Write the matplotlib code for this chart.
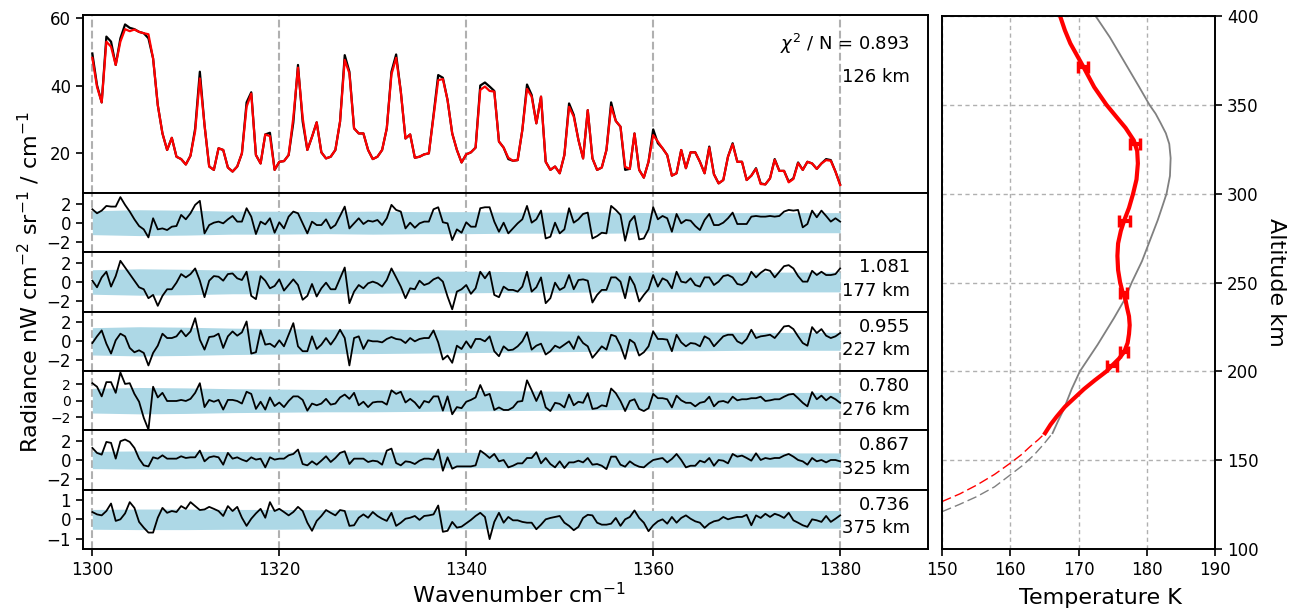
import numpy as np
import matplotlib
matplotlib.use("Agg")
import matplotlib.pyplot as plt

# wavenumber grid of the spectra (cm-1)
wn = np.arange(1300, 1380.5, 0.5)

meas = [49.5, 40.1, 35.0, 54.5, 53.0, 46.1, 54.0, 58.1, 57.1, 56.7,
        55.9, 55.5, 54.0, 48.0, 34.2, 25.8, 20.9, 24.5, 18.9, 18.2,
        16.6, 19.2, 27.3, 44.1, 28.3, 16.0, 15.0, 21.4, 20.9, 15.7,
        14.5, 16.0, 19.9, 35.0, 38.0, 19.4, 16.9, 25.5, 26.0, 15.0,
        17.4, 17.6, 19.4, 29.0, 46.1, 29.3, 20.9, 24.8, 29.1, 20.2,
        18.4, 18.9, 20.9, 29.3, 49.0, 44.1, 27.3, 25.8, 25.8, 20.9,
        18.2, 18.9, 20.9, 27.3, 44.1, 49.2, 38.2, 24.3, 25.5, 18.6,
        18.9, 19.6, 19.9, 31.3, 43.1, 42.3, 35.7, 25.8, 20.9, 17.2,
        19.6, 20.2, 21.6, 40.0, 40.9, 39.7, 38.4, 23.4, 21.6, 18.2,
        17.7, 17.9, 26.8, 40.3, 37.2, 28.8, 36.7, 17.4, 15.0, 16.0,
        14.0, 19.4, 34.7, 31.3, 23.9, 18.4, 32.7, 18.4, 15.0, 15.7,
        20.9, 35.0, 29.5, 27.8, 15.0, 15.3, 25.8, 15.0, 12.7, 17.4,
        27.0, 22.9, 21.4, 19.4, 13.3, 14.0, 20.9, 15.5, 20.2, 20.2,
        17.4, 14.0, 21.9, 13.7, 11.0, 12.0, 18.9, 22.9, 17.4, 17.4,
        12.0, 13.3, 15.5, 11.0, 10.7, 12.5, 18.2, 14.7, 14.7, 11.5,
        12.5, 17.2, 15.0, 17.4, 16.9, 15.3, 16.9, 18.2, 17.9, 14.5,
        10.7]

model = [48.2, 39.6, 35.0, 53.0, 51.5, 46.1, 53.0, 56.7, 56.1, 56.6,
         55.9, 55.5, 55.2, 48.0, 34.2, 25.8, 20.9, 24.5, 18.9, 18.2,
         16.6, 19.2, 26.5, 42.1, 28.3, 16.0, 15.0, 21.4, 20.9, 15.7,
         14.5, 16.0, 19.9, 33.7, 37.6, 19.4, 16.9, 25.5, 25.0, 15.0,
         17.4, 17.6, 19.4, 30.5, 45.3, 30.5, 20.9, 24.8, 29.1, 20.2,
         18.4, 18.9, 20.9, 29.3, 47.6, 43.6, 27.3, 25.8, 25.8, 20.9,
         18.2, 18.9, 20.9, 27.3, 43.3, 48.2, 38.2, 24.3, 25.5, 18.6,
         18.9, 19.6, 19.9, 30.8, 41.6, 41.9, 35.7, 25.8, 20.9, 17.2,
         19.6, 20.2, 21.6, 38.7, 39.7, 38.4, 38.2, 23.4, 21.6, 18.6,
         17.7, 17.9, 26.8, 39.0, 36.7, 28.8, 36.7, 17.4, 15.0, 16.0,
         14.0, 19.4, 33.7, 30.8, 23.9, 18.4, 32.7, 18.4, 15.0, 15.7,
         20.9, 33.7, 29.5, 27.8, 15.9, 15.3, 25.8, 15.0, 12.7, 17.4,
         25.3, 23.4, 21.4, 19.4, 13.3, 14.0, 20.9, 15.5, 20.2, 20.2,
         17.4, 14.0, 21.6, 13.7, 11.0, 12.0, 18.9, 22.6, 17.4, 17.4,
         12.0, 13.3, 15.3, 10.8, 10.7, 12.5, 18.0, 14.7, 14.7, 11.3,
         12.3, 17.0, 15.0, 17.4, 16.9, 15.3, 16.9, 17.9, 17.7, 14.5,
         10.5]

res_126 = [1.40, 0.98, 1.26, 1.75, 1.68, 1.68, 2.67, 1.86, 1.16, 0.35,
           -0.35, -0.70, -1.54, 0.46, -0.70, -0.60, -0.77, -0.42, -0.35, 0.81,
           0.35, 0.98, 1.86, 2.28, -1.12, -0.25, 0.00, 0.11, -0.07, 0.35,
           0.70, 0.11, 0.11, 1.51, 0.63, -1.19, 0.11, -0.18, 0.46, -1.05,
           0.04, -0.60, 0.63, 1.16, 0.98, -0.07, -1.12, 0.11, -0.25, -0.25,
           0.35, -0.60, -0.25, 0.70, 1.68, -0.60, -0.07, 0.46, -0.14, 0.21,
           0.11, 0.28, -0.25, 0.46, 1.86, 1.33, 1.16, -0.60, 0.00, -0.53,
           -0.07, 0.11, 0.11, 1.40, 1.61, 0.04, -0.07, -1.82, -0.70, -1.05,
           0.04, -0.42, -0.42,
           1.51, 1.61, 1.61, 0.11, -0.95, 0.00, -1.12, -0.60, -0.07, 0.35,
           1.75, 0.00, 0.35, 1.26, -1.65, -1.47, 0.00, -1.12, -0.70, 1.51,
           0.00, 0.35, 0.91, 1.05, -1.65, -1.40, -1.05, -1.12, 1.75, 1.33,
           0.81, -1.89, 0.11, 0.70, -1.75, -1.65, -0.70, 1.61, 0.35, 0.70,
           0.46, -0.95, 0.91, -0.07, 0.28, 0.21, -0.35, -0.77, 0.28, 0.91,
           -0.25, -0.25, 0.00, 0.46, 1.05, -0.14, -0.14, -0.14, 0.63, 0.70,
           0.63, 0.63, 0.70, 0.63, 0.70, 1.16, 1.33, 1.26, 1.33, -0.49,
           -0.14, 1.26, 0.56, 1.26, 0.70, 0.11, 0.46, 0.11]

res_177 = [0.14, -0.56, 0.49, 1.09, -0.49, 0.63, 2.25, 1.54, 0.84, 0.14,
           -0.56, -0.77, -1.72, -1.37, -2.53, -1.47, -0.77, -0.77, -0.07, 0.84,
           0.49, 0.84, 1.44, 0.14, -1.61, 0.14, 0.63, 0.56, 0.14, 0.84,
           0.91, 0.39, 0.21, 1.09, -1.47, -1.82, 0.63, 0.14, -0.67, -0.42,
           0.28, -0.91, -0.32, 0.28, -0.32, -1.89, -1.47, -0.21, -1.54, -0.67,
           -0.07, -0.77, -0.77, 0.39, 1.54, -2.25, -1.02, -0.32, -0.67, -0.14,
           0.04, -0.14, -0.49, 0.21, 1.44, 0.49, -0.49, -1.72, -0.67, -0.77,
           0.14, -0.32, -0.14, 0.28, 0.49, 0.04, -1.54, -2.90, -1.02, -0.77,
           -0.32, -1.26, -0.67,
           1.09, 0.39, 1.09, -1.37, -1.61, -0.49, -0.84, -0.84, -1.02, -0.49,
           1.09, -1.02, -0.56, 0.49, -2.25, -1.72, -0.07, -0.84, -0.56, 0.74,
           -0.77, 0.21, 0.28, 0.14, -2.18, -1.37, -0.84, -0.84, 0.49, 0.49,
           0.04, -1.72, 0.56, -0.32, -2.07, -1.37, -0.77, 0.74, -0.49, 0.39,
           0.14, -0.67, 1.09, 0.04, -0.07, 0.39, -0.32, -0.49, 0.49, 0.49,
           -0.32, 0.04, 0.63, 0.74, 0.49, -0.21, -0.32, 0.04, 1.09, 0.49,
           0.98, 1.33, 1.19, 0.49, 1.09, 1.68, 1.79, 1.44, 0.63, 0.04,
           0.04, 1.19, 0.74, 1.09, 0.74, 0.74, 0.84, 1.44]

res_227 = [-0.18, 0.53, 1.16, -0.25, -1.30, 0.11, 0.81, 0.53, -0.70, -1.16,
           -0.95, -1.23, -2.56, -1.23, -0.46, 0.81, 0.35, 0.35, 0.53, 1.16,
           0.53, 1.05, 2.46, 0.18, -0.88, 0.46, 0.53, 0.81, -0.70, 0.53,
           1.05, 0.60, 0.95, 2.11, -1.30, -1.16, 1.16, -0.35, -0.25, -0.60,
           0.11, -0.53, 0.70, 1.93, -0.53, -1.05, -1.05, 0.53, -0.81, -0.35,
           0.35, -0.35, 0.35, 1.23, 0.35, -2.56, 0.35, 0.53, -0.81, 0.11,
           0.00, 0.00, -0.11, 0.25, 0.46, 0.25, 0.18, -0.18, 0.35, 0.00,
           0.25, 0.35, 0.35, 1.16, -0.11, -1.93, -1.51, -2.28, -0.46, -0.81,
           0.00, -0.70, 0.25,
           0.25, 0.00, 0.53, -1.05, -1.58, -0.53, -0.95, -0.88, -0.53, 0.00,
           0.95, -0.88, -0.46, -0.25, -1.40, -1.05, -0.46, -0.70, -0.35, 0.00,
           -0.81, 0.53, -0.18, -0.53, -1.75, -1.16, -0.53, -0.88, 0.70, 0.53,
           -0.46, -1.86, 0.18, -0.18, -1.51, -1.16, -0.53, 1.05, 0.25, 0.25,
           0.18, -1.05, 0.70, -0.11, -0.53, -0.18, -0.25, -0.53, 0.53, 0.25,
           -0.53, 0.00, 0.53, 0.70, 0.70, 0.00, -0.25, 0.25, 1.23, 0.35,
           0.53, 0.60, 0.70, 0.35, 0.95, 1.58, 1.65, 1.30, 0.53, -0.18,
           -0.46, 1.51, 0.88, 1.30, 0.60, 0.35, 0.53, 0.88]

res_276 = [2.12, 1.69, 0.52, 2.25, 2.25, 0.95, 3.42, 2.03, 2.12, 0.82,
           -0.13, -2.08, -3.51, 1.69, 0.39, 0.95, -0.04, -0.04, -0.04, 0.09,
           -0.04, 0.22, 0.95, 2.12, -0.78, 0.09, -0.13, 0.09, -1.08, 0.09,
           0.09, -0.04, -0.35, 1.08, 0.82, -1.00, -0.13, -1.08, 0.39, -0.65,
           -0.22, -0.78, -0.04, 0.52, 0.52, 0.09, -1.21, -0.35, -0.56, -0.35,
           0.22, -0.48, -0.35, 0.39, 0.74, 0.22, 0.95, -0.56, -0.13, -0.78,
           -0.22, -0.13, -0.13, -0.48, 1.26, 0.82, 1.08, -0.22, 0.22, -0.22,
           -0.91, -0.04, -0.22, 0.52, 0.52, -1.21, 0.52, -1.65, -0.78, -0.91,
           -0.13, 0.09, 0.39,
           1.90, 0.61, 0.82, -1.13, -0.82, -1.13, -1.13, -0.82, -0.13, -0.04,
           2.47, 1.26, -0.04, 1.17, -0.82, -1.26, -0.26, -0.39, -0.82, 0.74,
           -0.56, -0.13, -0.26, 0.91, -1.00, -0.91, -0.56, -0.69, 1.47, 0.91,
           -0.04, -1.26, -0.04, 0.17, -1.00, -1.26, -0.91, 0.82, 0.30, 0.30,
           0.17, -0.82, 0.61, 0.04, -0.26, -0.26, -0.69, -0.26, -0.13, 0.48,
           -0.69, -0.13, -0.04, -0.26, 0.48, 0.04, 0.17, 0.17, 0.30, 0.30,
           0.48, -0.04, 0.04, 0.17, 0.17, 0.48, 0.74, 0.82, 0.30, -0.26,
           -0.69, 1.04, 0.17, 0.61, 0.04, 0.48, 0.17, -0.26]

res_325 = [1.26, 0.74, 0.56, 1.89, 1.79, 0.14, 1.96, 2.14, 1.89, 1.26,
           0.14, -0.56, -0.67, 0.28, 0.14, 0.49, 0.14, 0.14, 0.14, 0.39,
           0.21, 0.28, 0.28, 0.98, -0.14, 0.28, 0.39, 0.28, -0.49, 0.74,
           0.14, 0.28, 0.04, -0.14, 0.28, 0.04, 0.14, -0.77, 0.28, 0.04,
           0.14, 0.14, 0.49, 0.63, 1.09, -0.42, -0.56, -0.14, -0.49, -0.07,
           0.39, -0.21, 0.21, 0.74, 0.91, -0.42, 0.14, 0.14, 0.14, -0.21,
           -0.07, -0.14, -0.49, 0.98, 1.19, -0.32, -0.56, -0.14, -0.21, -0.42,
           -0.07, 0.14, 0.14, 0.04, 1.09, -1.12, 0.28, -0.91, -0.67, -0.67,
           -0.67, -0.67, -0.56,
           0.98, 0.63, 0.21, 0.63, -0.14, 0.00, -0.77, -0.60, -0.35, -0.35,
           0.21, 0.21, 0.81, -0.35, 0.21, -0.42, -0.77, -0.14, -0.84, -0.25,
           -0.25, -0.07, -0.25, 0.21, -0.49, -0.42, -0.60, -0.95, 0.35, 0.35,
           -0.49, -0.70, -0.14, -0.49, -0.70, -0.77, -0.35, 0.00, 0.11, 0.21,
           -0.25, 0.11, 0.63, 0.00, -0.77, -0.60, -0.60, -0.07, -0.25, 0.21,
           -0.60, 0.00, -0.07, -0.35, 0.63, 0.35, 0.46, 0.21, -0.07, 0.70,
           0.00, 0.21, 0.11, 0.21, 0.21, 0.46, 0.63, 0.35, 0.00, -0.14,
           -0.49, 0.21, -0.14, 0.00, -0.25, 0.00, 0.00, -0.14]

res_375 = [0.37, 0.25, 0.20, 0.42, 0.80, -0.08, 0.00, 0.30, 0.87, 0.58,
           -0.13, -0.42, -0.67, -0.67, 0.08, 0.58, 0.33, 0.42, 0.37, 0.67,
           0.53, 0.87, 0.67, 0.47, 0.50, 0.63, 0.53, 0.42, 0.17, 0.67,
           0.42, 0.63, 0.08, -0.33, 0.03, 0.30, 0.53, 0.08, 0.87, 0.42,
           0.53, 0.37, 0.20, 0.37, 0.63, 0.42, -0.17, -0.58, -0.08, 0.17,
           0.47, 0.33, 0.20, 0.47, 0.42, -0.33, -0.30, 0.08, 0.25, 0.08,
           0.37, 0.17, 0.03, -0.08, 0.33, -0.33, -0.17, 0.03, 0.08, 0.17,
           -0.03, 0.17, 0.20, 0.25, 0.70, -0.63, -0.58, -0.13, -0.42, -0.37,
           -0.20, -0.03, 0.17,
           0.33, 0.12, -1.00, -0.13, 0.33, -0.17, 0.12, -0.05, -0.05, -0.13,
           -0.17, -0.17, -0.50, -0.27, 0.00, 0.07, 0.12, 0.17, -0.17, -0.33,
           -0.55, -0.38, 0.07, 0.23, 0.20, -0.17, -0.27, -0.27, -0.22, 0.07,
           -0.33, 0.00, 0.12, 0.45, 0.07, -0.17, -0.60, -0.30, -0.10, 0.00,
           -0.22, 0.12, -0.17, 0.07, 0.20, 0.03, -0.10, -0.17, -0.43, -0.22,
           -0.10, -0.05, 0.12, 0.00, 0.07, 0.12, 0.12, 0.23, -0.30, 0.20,
           0.07, 0.28, 0.12, 0.28, 0.20, 0.07, 0.33, -0.05, -0.17, -0.30,
           -0.38, 0.00, -0.05, -0.13, 0.17, -0.13, 0.03, 0.20]

# noise level (1 sigma) read every 5 cm-1
sig_wn = [1300, 1305, 1310, 1315, 1320, 1325, 1330, 1335, 1340,
          1345, 1350, 1355, 1360, 1365, 1370, 1375, 1380]
sig_126 = [1.25, 1.35, 1.30, 1.20, 1.20, 1.15, 1.20, 1.15, 1.15, 1.10, 1.10, 1.10, 1.05, 1.05, 1.05, 1.05, 1.05]
sig_177 = [1.30, 1.40, 1.35, 1.25, 1.25, 1.20, 1.20, 1.15, 1.15, 1.10, 1.10, 1.05, 1.05, 1.05, 1.05, 1.05, 1.05]
sig_227 = [1.45, 1.55, 1.50, 1.40, 1.35, 1.30, 1.30, 1.25, 1.20, 1.15, 1.10, 1.05, 1.00, 1.00, 0.95, 0.95, 0.95]
sig_276 = [1.50, 1.60, 1.55, 1.45, 1.40, 1.35, 1.35, 1.30, 1.25, 1.20, 1.15, 1.10, 1.05, 1.05, 1.00, 1.00, 1.00]
sig_325 = [0.90, 0.95, 0.92, 0.88, 0.85, 0.85, 0.85, 0.82, 0.80, 0.80, 0.78, 0.76, 0.75, 0.74, 0.74, 0.74, 0.74]
sig_375 = [0.50, 0.52, 0.52, 0.50, 0.50, 0.48, 0.48, 0.48, 0.47, 0.47, 0.46, 0.46, 0.45, 0.45, 0.45, 0.45, 0.45]

panel_res = [res_126, res_177, res_227, res_276, res_325, res_375]
panel_sig = [sig_126, sig_177, sig_227, sig_276, sig_325, sig_375]
panel_lim = [3.1, 3.15, 3.15, 3.6, 3.1, 1.5]
panel_ticks = [[-2, 0, 2]] * 5 + [[-1, 0, 1]]
panel_tick_fs = [12, 12, 12, 10, 12, 12]
panel_chi = [None, '1.081', '0.955', '0.780', '0.867', '0.736']
panel_alt = [None, '177 km', '227 km', '276 km', '325 km', '375 km']

# temperature profiles (K) against altitude (km)
ret_alt = [165.2, 170, 174.5, 180, 185, 190, 195, 200, 203.2, 207, 211, 216, 221, 226,
           231, 236, 240, 244, 250, 257, 265, 272, 279, 285, 292, 300, 308, 317, 324,
           330, 337, 343, 350, 360, 371.5, 384.6, 392, 400]
ret_T = [165.1, 165.9, 166.8, 168.0, 169.4, 170.8, 172.4, 174.1, 174.9, 175.9, 176.7, 177.2,
         177.4, 177.5, 177.4, 177.1, 176.9, 176.5, 176.1, 175.8, 175.7, 175.8, 176.2, 176.7,
         177.4, 178.0, 178.5, 178.7, 178.6, 178.1, 176.9, 175.6, 174.1, 172.3, 170.7, 168.8,
         168.0, 167.3]
ret_low_alt = [126.7, 131, 136, 142, 148.3, 153, 157.6, 161.5, 165.2]
ret_low_T = [150, 152.6, 155.1, 157.7, 160, 161.6, 162.9, 164.1, 165.1]
apr_alt = [165.2, 172, 178.3, 190, 200, 215, 230, 240, 250, 262, 275, 285, 293, 300, 310,
           320, 328, 334, 340, 345, 350, 360, 375, 388, 400]
apr_T = [166.2, 167.0, 167.8, 169.0, 170.2, 172.8, 175.2, 176.7, 177.8, 179.3, 180.6, 181.6,
         182.3, 182.9, 183.4, 183.5, 183.3, 182.8, 182.0, 181.3, 180.4, 178.9, 176.6, 174.6,
         172.5]
apr_low_alt = [121, 125, 129.5, 135, 141.7, 147, 153, 159, 165.2]
apr_low_T = [150, 152.5, 155.1, 157.7, 160, 161.8, 163.5, 164.9, 166.2]
err_alt = [371.5, 328, 284.8, 244, 211, 203.2]
err_T = [170.7, 178.3, 176.7, 176.6, 176.7, 174.9]
err_dT = [0.75, 0.75, 0.8, 0.5, 0.6, 0.7]

plt.rcParams['font.size'] = 13
plt.rcParams['axes.linewidth'] = 1.4
plt.rcParams['xtick.labelsize'] = 12
plt.rcParams['ytick.labelsize'] = 12
plt.rcParams['xtick.major.size'] = 5
plt.rcParams['ytick.major.size'] = 5
plt.rcParams['xtick.major.width'] = 1.2
plt.rcParams['ytick.major.width'] = 1.2

W, H = 1289, 612
fig = plt.figure(figsize=(W / 100, H / 100), dpi=100)
gs = fig.add_gridspec(7, 1, left=83 / W, right=928 / W, top=1 - 15 / H, bottom=1 - 549 / H,
                      hspace=0, height_ratios=[3, 1, 1, 1, 1, 1, 1])

axes = [fig.add_subplot(gs[0])]
for i in range(1, 7):
    axes.append(fig.add_subplot(gs[i], sharex=axes[0]))

ax0 = axes[0]
for a in axes:
    for w in [1300, 1320, 1340, 1360, 1380]:
        a.axvline(w, color='#b0b0b0', ls='--', lw=1.5, zorder=0)
    a.tick_params(axis='x', bottom=False, labelbottom=False)

ax0.plot(wn, meas, color='black', lw=1.6)
ax0.plot(wn, model, color='red', lw=1.6)
ax0.set_ylim(8.15, 60.9)
ax0.set_yticks([20, 40, 60])
ax0.text(0.979, 0.84, r'$\chi^2$ / N = 0.893', transform=ax0.transAxes, ha='right', va='center')
ax0.text(0.979, 0.653, '126 km', transform=ax0.transAxes, ha='right', va='center')

for i, a in enumerate(axes[1:]):
    s = np.array(panel_sig[i])
    a.fill_between(sig_wn, -s, s, color='lightblue', lw=0, zorder=1)
    a.plot(wn, panel_res[i], color='black', lw=1.3, zorder=2)
    a.set_ylim(-panel_lim[i], panel_lim[i])
    a.set_yticks(panel_ticks[i])
    a.tick_params(axis='y', labelsize=panel_tick_fs[i])
    if panel_chi[i]:
        a.text(0.979, 0.75, panel_chi[i], transform=a.transAxes, ha='right', va='center')
        a.text(0.979, 0.35, panel_alt[i], transform=a.transAxes, ha='right', va='center')

ax0.set_xlim(1299.0, 1389.4)
axes[-1].tick_params(axis='x', bottom=True, labelbottom=True)
axes[-1].set_xticks([1300, 1320, 1340, 1360, 1380])
axes[-1].set_xlabel('Wavenumber cm$^{-1}$', fontsize=16)
axes[-1].xaxis.set_label_coords(519 / W, 1 - 582 / H, transform=fig.transFigure)
fig.text(0.012, (1 - 15 / H + 1 - 549 / H) / 2, 'Radiance nW cm$^{-2}$ sr$^{-1}$ / cm$^{-1}$',
         rotation=90, ha='left', va='center', fontsize=16)

# temperature panel
ax2 = fig.add_axes([942 / W, 1 - 549 / H, (1215 - 942) / W, (549 - 16) / H])
ax2.grid(True, color='#b0b0b0', ls=(0, (3, 2.5)), lw=1)
ax2.plot(apr_T, apr_alt, color='gray', lw=1.3)
ax2.plot(apr_low_T, apr_low_alt, color='gray', lw=1, ls=(0, (7, 3)))
ax2.plot(ret_low_T, ret_low_alt, color='red', lw=1, ls=(0, (7, 3)))
ax2.plot(ret_T, ret_alt, color='red', lw=3, solid_joinstyle='round')
ax2.errorbar(err_T, err_alt, xerr=err_dT, fmt='none', ecolor='red', elinewidth=3,
             capsize=4.5, capthick=2.5)
ax2.set_xlim(150, 190)
ax2.set_ylim(100, 400)
ax2.set_xticks([150, 160, 170, 180, 190])
ax2.set_yticks([100, 150, 200, 250, 300, 350, 400])
ax2.yaxis.tick_right()
ax2.yaxis.set_label_position('right')
ax2.set_ylabel('Altitude km', rotation=270, fontsize=16)
ax2.yaxis.set_label_coords(1276 / W, 0.5 * (1 - 16 / H + 1 - 549 / H), transform=fig.transFigure)
ax2.yaxis.label.set_va('center')
ax2.set_xlabel('Temperature K', fontsize=16)
ax2.xaxis.set_label_coords(1100 / W, 1 - 588 / H, transform=fig.transFigure)

fig.savefig('out.png', dpi=100)
